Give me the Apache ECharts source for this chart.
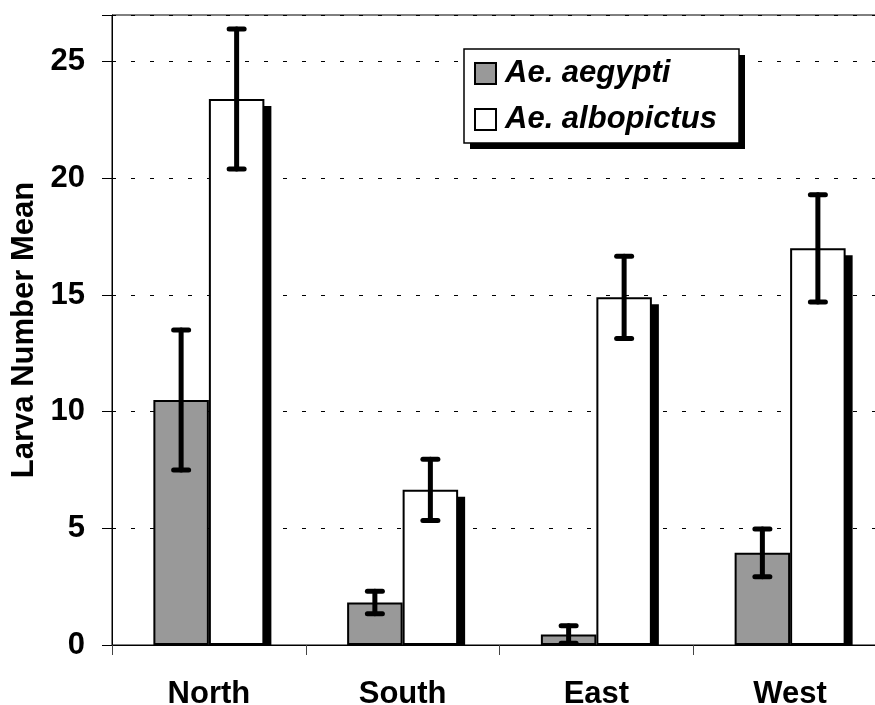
<!DOCTYPE html>
<html>
<head>
<meta charset="utf-8">
<script src="https://cdn.jsdelivr.net/npm/echarts@6/dist/echarts.min.js"></script>
<style>html,body{margin:0;padding:0;background:#fff;}#chart{width:875px;height:705px;}</style>
</head>
<body>
<div id="chart"></div>
<script>
const categories = ['North', 'South', 'East', 'West'];
const seriesNames = ['Ae. aegypti', 'Ae. albopictus'];
const aegypti = [10.5, 1.82, 0.45, 3.95];
const aegyptiErr = [3.0, 0.48, 0.37, 1.02];
const albopictus = [23.4, 6.65, 14.9, 17.0];
const albopictusErr = [3.0, 1.31, 1.76, 2.3];
const yTicks = [0, 5, 10, 15, 20, 25];

const FONT = '"Liberation Sans", Arial, Helvetica, sans-serif';
const BAR_W = 55.5;
const SHADOW = 7;

const chart = echarts.init(document.getElementById('chart'), null, {renderer: 'canvas'});

function shadowRender(params, api) {
  const i = api.value(0), v = api.value(1);
  const c = api.coord([i, v]);
  const base = api.coord([i, 0]);
  const x = c[0] + SHADOW;
  const top = c[1] + SHADOW;
  const h = base[1] - top;
  if (h <= 0) return null;
  return {type: 'rect', shape: {x: x, y: top, width: BAR_W, height: h}, style: {fill: '#000'}};
}

function errRender(offsetSign) {
  return function (params, api) {
    const i = api.value(0), v = api.value(1), e = api.value(2);
    const hi = api.coord([i, v + e]);
    const lo = api.coord([i, Math.max(v - e, 0)]);
    const x = hi[0] + offsetSign * BAR_W / 2;
    const style = {stroke: '#000', lineWidth: 5, lineCap: 'round'};
    return {
      type: 'group',
      children: [
        {type: 'line', shape: {x1: x, y1: hi[1], x2: x, y2: lo[1]}, style: style},
        {type: 'line', shape: {x1: x - 7.5, y1: hi[1], x2: x + 7.5, y2: hi[1]}, style: style},
        {type: 'line', shape: {x1: x - 7.5, y1: lo[1], x2: x + 7.5, y2: lo[1]}, style: style}
      ]
    };
  };
}

const option = {
  animation: false,
  backgroundColor: '#fff',
  textStyle: {fontFamily: FONT},
  grid: {left: 112, top: 15, width: 775, height: 630, outerBoundsMode: 'none', containLabel: false,
         show: true, borderColor: '#000', borderWidth: 1, backgroundColor: 'transparent'},
  graphic: [
    {type: 'rect', z: 10, silent: true, shape: {x: 470, y: 55, width: 275, height: 94}, style: {fill: '#000'}},
    {type: 'rect', z: 11, silent: true, shape: {x: 464, y: 49, width: 275, height: 94}, style: {fill: '#fff', stroke: '#000', lineWidth: 1.5}}
  ],
  legend: {
    data: seriesNames,
    orient: 'vertical',
    left: 464,
    top: 49,
    z: 20,
    icon: 'rect',
    itemWidth: 21,
    itemHeight: 21,
    itemGap: 15,
    padding: [9, 16, 8, 10],
    textStyle: {fontFamily: FONT, fontSize: 31, fontWeight: 'bold', fontStyle: 'italic', color: '#000', padding: [0, 0, 0, 4]}
  },
  xAxis: {
    type: 'category',
    data: categories,
    boundaryGap: true,
    axisLine: {lineStyle: {color: '#000', width: 1}},
    axisTick: {show: true, length: 10, lineStyle: {color: '#444'}},
    axisLabel: {fontFamily: FONT, fontSize: 31, fontWeight: 'bold', color: '#000', margin: 34}
  },
  yAxis: {
    type: 'value',
    min: 0,
    max: 27,
    interval: 5,
    name: 'Larva Number Mean',
    nameLocation: 'middle',
    nameRotate: 90,
    nameGap: 70,
    nameTextStyle: {fontFamily: FONT, fontSize: 31, fontWeight: 'bold', color: '#000'},
    axisLine: {show: true, lineStyle: {color: '#000', width: 1}},
    axisTick: {show: true, inside: false, length: 10, lineStyle: {color: '#000'}},
    axisLabel: {
      fontFamily: FONT, fontSize: 31, fontWeight: 'bold', color: '#000', margin: 27,
      formatter: function (v) { return yTicks.indexOf(v) >= 0 ? String(v) : ''; }
    },
    splitLine: {show: true, lineStyle: {color: '#000', width: 1, type: [4, 15]}}
  },
  series: [
    {
      type: 'custom', name: 'shadow', silent: true, z: 1,
      renderItem: shadowRender,
      data: albopictus.map((v, i) => [i, v])
    },
    {
      type: 'bar', name: seriesNames[0], data: aegypti, barWidth: BAR_W, barGap: '0%', z: 2,
      itemStyle: {color: '#999999', borderColor: '#000', borderWidth: 2}
    },
    {
      type: 'bar', name: seriesNames[1], data: albopictus, barWidth: BAR_W, barGap: '0%', z: 2,
      itemStyle: {color: '#ffffff', borderColor: '#000', borderWidth: 2}
    },
    {
      type: 'custom', name: 'err1', silent: true, z: 4,
      renderItem: errRender(-1),
      data: aegypti.map((v, i) => [i, v, aegyptiErr[i]])
    },
    {
      type: 'custom', name: 'err2', silent: true, z: 4,
      renderItem: errRender(1),
      data: albopictus.map((v, i) => [i, v, albopictusErr[i]])
    }
  ]
};
chart.setOption(option);
</script>
</body>
</html>
